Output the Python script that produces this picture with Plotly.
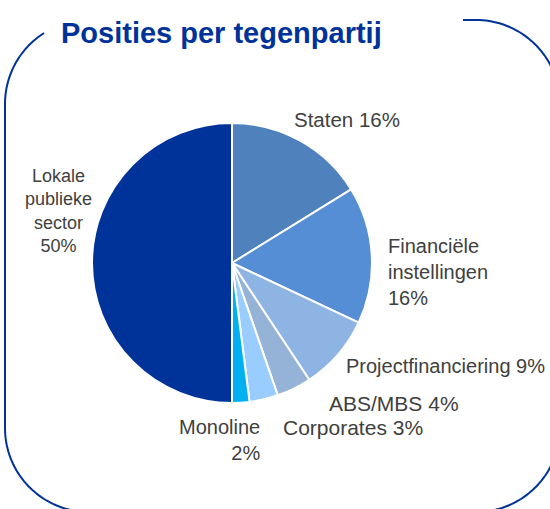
import numpy as np
import plotly.graph_objects as go

# ---- data ----
title_text = "Posities per tegenpartij"
categories = ["Staten", "Financiële instellingen", "Projectfinanciering",
              "ABS/MBS", "Corporates", "Monoline", "Lokale publieke sector"]
values = [16.2, 15.8, 8.7, 4.0, 3.3, 2.0, 50.0]
label_lines = [["Staten {p}"], ["Financiële", "instellingen", "{p}"],
               ["Projectfinanciering {p}"], ["ABS/MBS {p}"], ["Corporates {p}"],
               ["Monoline", "{p}"], ["Lokale", "publieke", "sector", "{p}"]]
colors = ["#4F81BD", "#558ED5", "#8EB4E3", "#95B3D7", "#99CCFF", "#00B0F0", "#003399"]

W, H = 550, 509
total = sum(values)
pcts = [f"{round(v / total * 100):.0f}%" for v in values]

# pie geometry (pixels)
cx, cy, r = 232, 263, 140

fig = go.Figure()
fig.add_trace(go.Pie(
    labels=categories, values=values, sort=False, direction="clockwise",
    marker=dict(colors=colors, line=dict(color="white", width=2)),
    textinfo="none", hoverinfo="label+percent", showlegend=False,
    domain=dict(x=[(cx - r) / W, (cx + r) / W], y=[1 - (cy + r) / H, 1 - (cy - r) / H]),
))

# label placement (pixel positions, anchors, font size)
label_pos = [
    (347, 119, "center", "center", 20.5),
    (386, 272, "left", "left", 20),
    (344, 366, "left", "left", 20),
    (327, 403, "left", "left", 21),
    (281, 427, "left", "left", 21),
    (262, 440, "right", "right", 20),
    (58, 211, "center", "center", 18),
]
annotations = []
for lines, p, (x, y, xa, al, fs) in zip(label_lines, pcts, label_pos):
    txt = "<br>".join(l.format(p=p) for l in lines)
    annotations.append(dict(x=x, y=y, xref="x", yref="y", text=txt, showarrow=False,
                            xanchor=xa, yanchor="middle", align=al,
                            font=dict(family="Liberation Sans, Arial", size=fs, color="#404040")))
annotations.append(dict(x=59, y=33, xref="x", yref="y", text=f"<b>{title_text}</b>",
                        showarrow=False, xanchor="left", yanchor="middle",
                        font=dict(family="Liberation Sans, Arial", size=29, color="#003399")))

# rounded border with a gap for the title
x0, y0, x1, y1, rad = 5, 20, 560, 512, 84
def arc(ccx, ccy, a0, a1, n=40):
    t = np.linspace(np.radians(a0), np.radians(a1), n)
    return list(zip(ccx + rad * np.cos(t), ccy + rad * np.sin(t)))

a_start = np.degrees(np.arctan2(33 - (y0 + rad), 44 - (x0 + rad)))
pts = []
pts += arc(x0 + rad, y0 + rad, a_start, -180)
pts += arc(x0 + rad, y1 - rad, 180, 90)
pts += arc(x1 - rad, y1 - rad, 90, 0)
pts += arc(x1 - rad, y0 + rad, 0, -90)
pts += [(463, y0)]
path = "M " + " L ".join(f"{px:.2f},{py:.2f}" for px, py in pts)
shapes = [dict(type="path", path=path, xref="x", yref="y",
               line=dict(color="#003399", width=2), layer="below")]

fig.update_layout(
    width=W, height=H, margin=dict(l=0, r=0, t=0, b=0),
    paper_bgcolor="white", plot_bgcolor="white",
    xaxis=dict(range=[0, W], visible=False, fixedrange=True),
    yaxis=dict(range=[H, 0], visible=False, fixedrange=True),
    annotations=annotations, shapes=shapes,
)
fig.write_html("out.html", config={"displayModeBar": False},
               post_script="document.body.style.margin='0';document.body.style.overflow='hidden';")
